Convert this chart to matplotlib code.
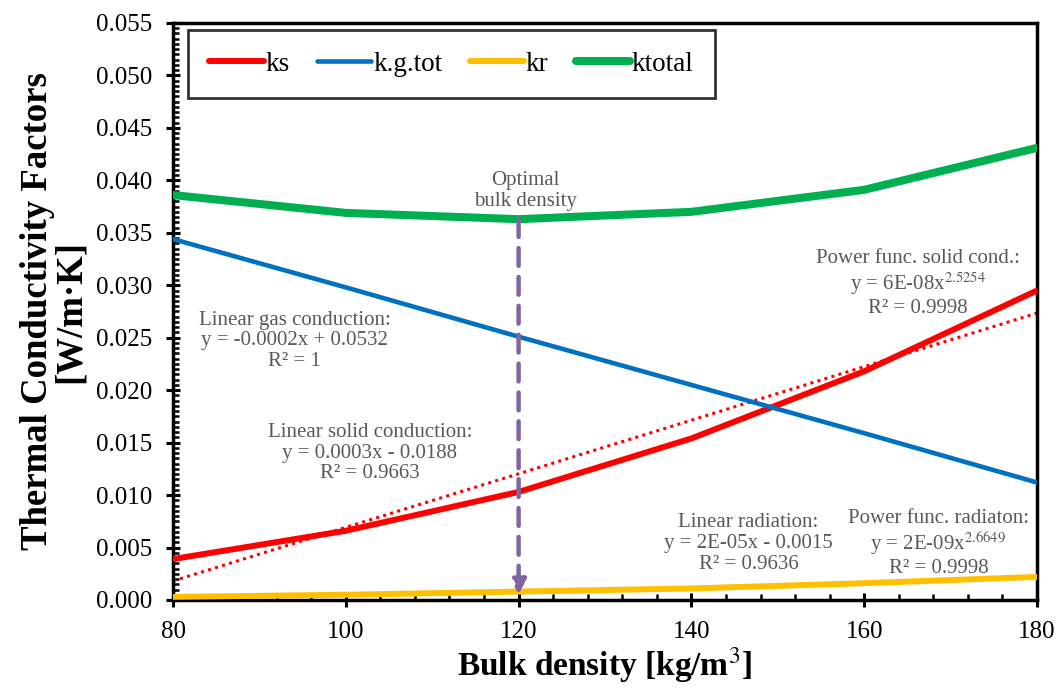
import numpy as np
import matplotlib
matplotlib.use("Agg")
import matplotlib.pyplot as plt
from matplotlib.ticker import MultipleLocator, FormatStrFormatter

plt.rcParams['font.family'] = ['Liberation Serif', 'DejaVu Serif']
plt.rcParams['mathtext.fontset'] = 'stix'

# data
density = [80, 100, 120, 140, 160, 180]
ks = [0.0039, 0.0066, 0.0103, 0.0154, 0.0218, 0.0295]
kg_tot = [0.0344, 0.0298, 0.0251, 0.0205, 0.0159, 0.0112]
kr = [0.0003, 0.0005, 0.0008, 0.0011, 0.0016, 0.0022]
ktotal = [0.0386, 0.0369, 0.0363, 0.0370, 0.0391, 0.0431]
optimal_density = 120

# linear trend line of ks (as in the spreadsheet)
slope, icpt = np.polyfit(density, ks, 1)
x_fit = np.array([density[0], density[-1]])

fig = plt.figure(figsize=(10.59, 6.89), dpi=100)
ax = fig.add_axes([173 / 1059, 89 / 689, 864 / 1059, 577 / 689])

ax.plot(x_fit, slope * x_fit + icpt, color='#FF0000', lw=2.2, ls=(0, (1, 1.4)), zorder=2)
ax.plot(density, ks, color='#FF0000', lw=4.3, label='ks', zorder=3, solid_capstyle='round')
ax.plot(density, kg_tot, color='#0070C0', lw=3.3, label='k.g.tot', zorder=3, solid_capstyle='round')
ax.plot(density, kr, color='#FFC000', lw=4.3, label='kr', zorder=3, solid_capstyle='round')
ax.plot(density, ktotal, color='#00B050', lw=5.8, label='ktotal', zorder=3, solid_capstyle='round')

# optimal density marker
i_opt = density.index(optimal_density)
ax.annotate('', xy=(optimal_density, kr[i_opt] - 0.0003), xytext=(optimal_density, ktotal[i_opt]),
            arrowprops=dict(arrowstyle='-|>', color='#8064A2', lw=3.2, ls=(0, (4, 2.5)),
                            mutation_scale=22, shrinkA=0, shrinkB=0), zorder=4)

txt = dict(color='#595959', fontsize=15, ha='center', va='center', linespacing=1.12)
ax.text(120.8, 0.0390, 'Optimal\nbulk density', **txt)
ax.text(94.1, 0.0247, 'Linear gas conduction:\ny = -0.0002x + 0.0532\nR² = 1', **txt)
ax.text(102.8, 0.0140, 'Linear solid conduction:\ny = 0.0003x - 0.0188\nR² = 0.9663', **txt)
ax.text(166.2, 0.0302, 'Power func. solid cond.:\ny = 6E-08x$^{2.5254}$\nR² = 0.9998', **txt)
ax.text(146.6, 0.0054, 'Linear radiation:\ny = 2E-05x - 0.0015\nR² = 0.9636', **txt)
ax.text(168.6, 0.0054, 'Power func. radiaton:\ny = 2E-09x$^{2.6649}$\nR² = 0.9998', **txt)

ax.set_xlim(80, 180)
ax.set_ylim(0, 0.055)
ax.xaxis.set_major_locator(MultipleLocator(20))
ax.xaxis.set_minor_locator(MultipleLocator(4))
ax.yaxis.set_major_locator(MultipleLocator(0.005))
ax.yaxis.set_minor_locator(MultipleLocator(0.0005))
ax.yaxis.set_major_formatter(FormatStrFormatter('%.3f'))
ax.tick_params(which='major', direction='inout', length=10, width=2.2, labelsize=18, colors='black')
ax.tick_params(axis='y', which='major', pad=10)
ax.tick_params(axis='x', which='major', pad=10)
ax.tick_params(which='minor', direction='in', length=4, width=1.8)
for s in ax.spines.values():
    s.set_linewidth(2.5)

ax.set_xlabel('Bulk density [kg/m$^3$]', fontsize=24, fontweight='bold', labelpad=2)
ax.set_ylabel('Thermal Conductivity Factors\n[W/m·K]', fontsize=26.5, fontweight='bold',
              labelpad=6, linespacing=0.92)

leg = ax.legend(loc='upper left', ncol=4, fontsize=19.5, frameon=True, fancybox=False,
                handlelength=2.0, columnspacing=1.0, handletextpad=0.08,
                bbox_to_anchor=(0.017, 0.988), borderpad=0.8, borderaxespad=0)
leg.get_frame().set_edgecolor('black')
leg.get_frame().set_linewidth(2.0)

fig.savefig('out.png', dpi=100)
